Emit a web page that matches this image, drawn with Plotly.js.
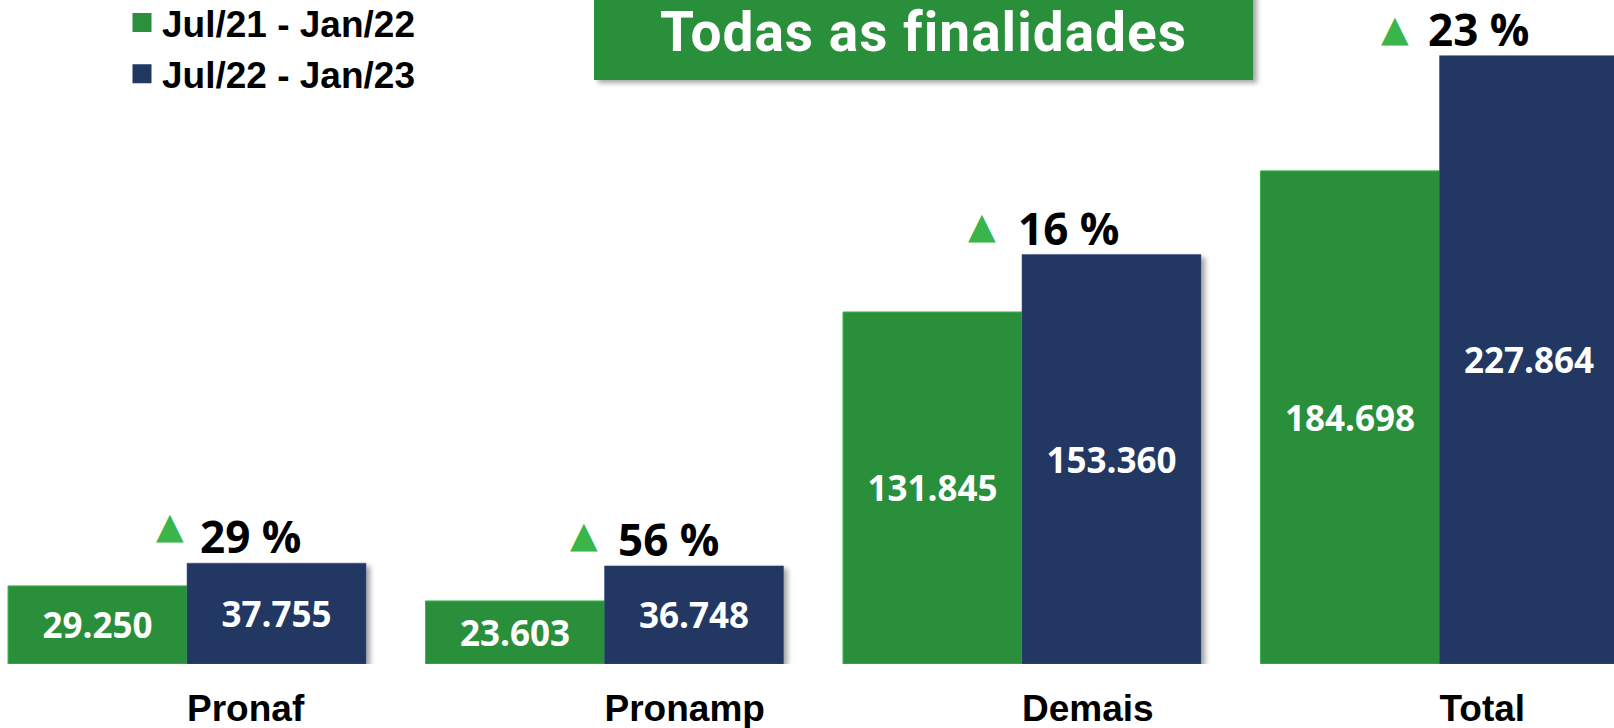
<!DOCTYPE html>
<html><head><meta charset="utf-8">
<script src="https://cdn.plot.ly/plotly-3.0.1.min.js"></script>
<style>html,body{margin:0;padding:0;background:#fff}#chart{width:1614px;height:728px}</style>
</head><body><div id="chart"></div>
<script>
// ---- data ----
const categories = ['Pronaf', 'Pronamp', 'Demais', 'Total'];
const seriesNames = ['Jul/21 - Jan/22', 'Jul/22 - Jan/23'];
const valuesPrev = [29250, 23603, 131845, 184698];
const valuesCurr = [37755, 36748, 153360, 227864];
const chartTitle = 'Todas as finalidades';

// ---- styling ----
const GREEN = '#2B8F3B', NAVY = '#213863', TRI = '#3AB54A';
const W = 1614, H = 728, MB = 64;
// label nudges (pixels) relative to the current-period bar's left edge
const textNudgeX = [13, 13, -4, -11];
const triNudgeX = [-17, -21, -40, -44];
const triNudgeY = [38, 31, 29, 27];

const growth = valuesCurr.map((v, i) => Math.round((v / valuesPrev[i] - 1) * 100));

const common = {
  type: 'bar', x: categories, showlegend: false,
  texttemplate: '%{y:,.0f}', textposition: 'inside', insidetextanchor: 'middle',
  textangle: 0, constraintext: 'none',
  insidetextfont: {family: 'Open Sans', size: 35, color: '#ffffff', weight: 700},
  hoverinfo: 'skip'
};
const traces = [
  Object.assign({}, common, {name: seriesNames[0], y: valuesPrev,
    marker: {color: GREEN, line: {color: TRI, width: 1}}}),
  Object.assign({}, common, {name: seriesNames[1], y: valuesCurr,
    marker: {color: NAVY, line: {color: '#3b4f78', width: 0.5}}}),
  // legend entries (square keys)
  {type: 'scatter', mode: 'markers', x: [null], y: [null], name: seriesNames[0], legendgroup: 'a',
   marker: {symbol: 'square', size: 16, color: GREEN, line: {color: GREEN, width: 3}}, hoverinfo: 'skip'},
  {type: 'scatter', mode: 'markers', x: [null], y: [null], name: seriesNames[1], legendgroup: 'b',
   marker: {symbol: 'square', size: 16, color: NAVY, line: {color: NAVY, width: 3}}, hoverinfo: 'skip'}
];

const annotations = [];
categories.forEach((c, i) => {
  annotations.push({x: c, y: valuesCurr[i], xref: 'x', yref: 'y', text: '▲', showarrow: false,
    xanchor: 'center', yanchor: 'middle', xshift: triNudgeX[i], yshift: triNudgeY[i],
    font: {family: 'DejaVu Sans', size: 36, color: TRI}});
  annotations.push({x: c, y: valuesCurr[i], xref: 'x', yref: 'y', text: growth[i] + ' %', showarrow: false,
    xanchor: 'left', yanchor: 'middle', xshift: textNudgeX[i] - 2, yshift: 27,
    font: {family: 'Open Sans', size: 44, color: '#000000', weight: 700}});
});

const plotH = H - MB;
const TITLE_SIZE = 55;
const layout = {
  width: W, height: H,
  margin: {l: 0, r: 0, t: 0, b: MB, pad: 0, autoexpand: false},
  paper_bgcolor: '#ffffff', plot_bgcolor: '#ffffff',
  separators: ',.',
  barmode: 'group', bargap: 0.1425, bargroupgap: 0,
  title: {text: chartTitle, x: 923.5 / W, xanchor: 'center', y: 1 - (51 - 0.35 * TITLE_SIZE) / H, yanchor: 'middle',
    font: {family: 'Roboto', size: TITLE_SIZE, color: '#ffffff', weight: 700}},
  shapes: [
    {type: 'rect', xref: 'paper', yref: 'paper', x0: 594 / W, x1: 1253 / W, y0: 1 - 80 / plotH, y1: 1.01,
     fillcolor: GREEN, line: {width: 0}, layer: 'above'}
  ],
  xaxis: {type: 'category', range: [-0.448, 3.418], showgrid: false, zeroline: false, showline: false,
    ticks: '', ticklabelposition: 'outside right', ticklabelstandoff: 19, automargin: false, fixedrange: true,
    tickfont: {family: 'Liberation Sans', size: 37, color: '#000000', weight: 700}},
  yaxis: {range: [0, 248700], visible: false, fixedrange: true, automargin: false},
  showlegend: true,
  legend: {x: 122 / W, xanchor: 'left', y: 1 + 8 / plotH, yanchor: 'top', bgcolor: 'rgba(0,0,0,0)',
    tracegroupgap: 19, traceorder: 'normal',
    font: {family: 'Liberation Sans', size: 37, color: '#000000', weight: 700}},
  annotations: annotations
};

Plotly.newPlot('chart', traces, layout, {staticPlot: true, displayModeBar: false}).then(gd => {
  const svg = gd.querySelector('svg.main-svg');
  const ns = 'http://www.w3.org/2000/svg';
  let defs = svg.querySelector('defs');
  const f = document.createElementNS(ns, 'filter');
  f.setAttribute('id', 'softshadow');
  f.setAttribute('x', '-10%'); f.setAttribute('y', '-10%');
  f.setAttribute('width', '130%'); f.setAttribute('height', '130%');
  const ds = document.createElementNS(ns, 'feDropShadow');
  ds.setAttribute('dx', '4'); ds.setAttribute('dy', '3');
  ds.setAttribute('stdDeviation', '2.5');
  ds.setAttribute('flood-color', '#000'); ds.setAttribute('flood-opacity', '0.35');
  f.appendChild(ds); defs.appendChild(f);
  gd.querySelectorAll('.barlayer .point path').forEach(p => p.setAttribute('filter', 'url(#softshadow)'));
  gd.querySelectorAll('.shapelayer path').forEach(p => p.setAttribute('filter', 'url(#softshadow)'));
  gd.querySelectorAll('.gtitle').forEach(t => t.style.letterSpacing = '1px');
});
</script>
</body></html>
